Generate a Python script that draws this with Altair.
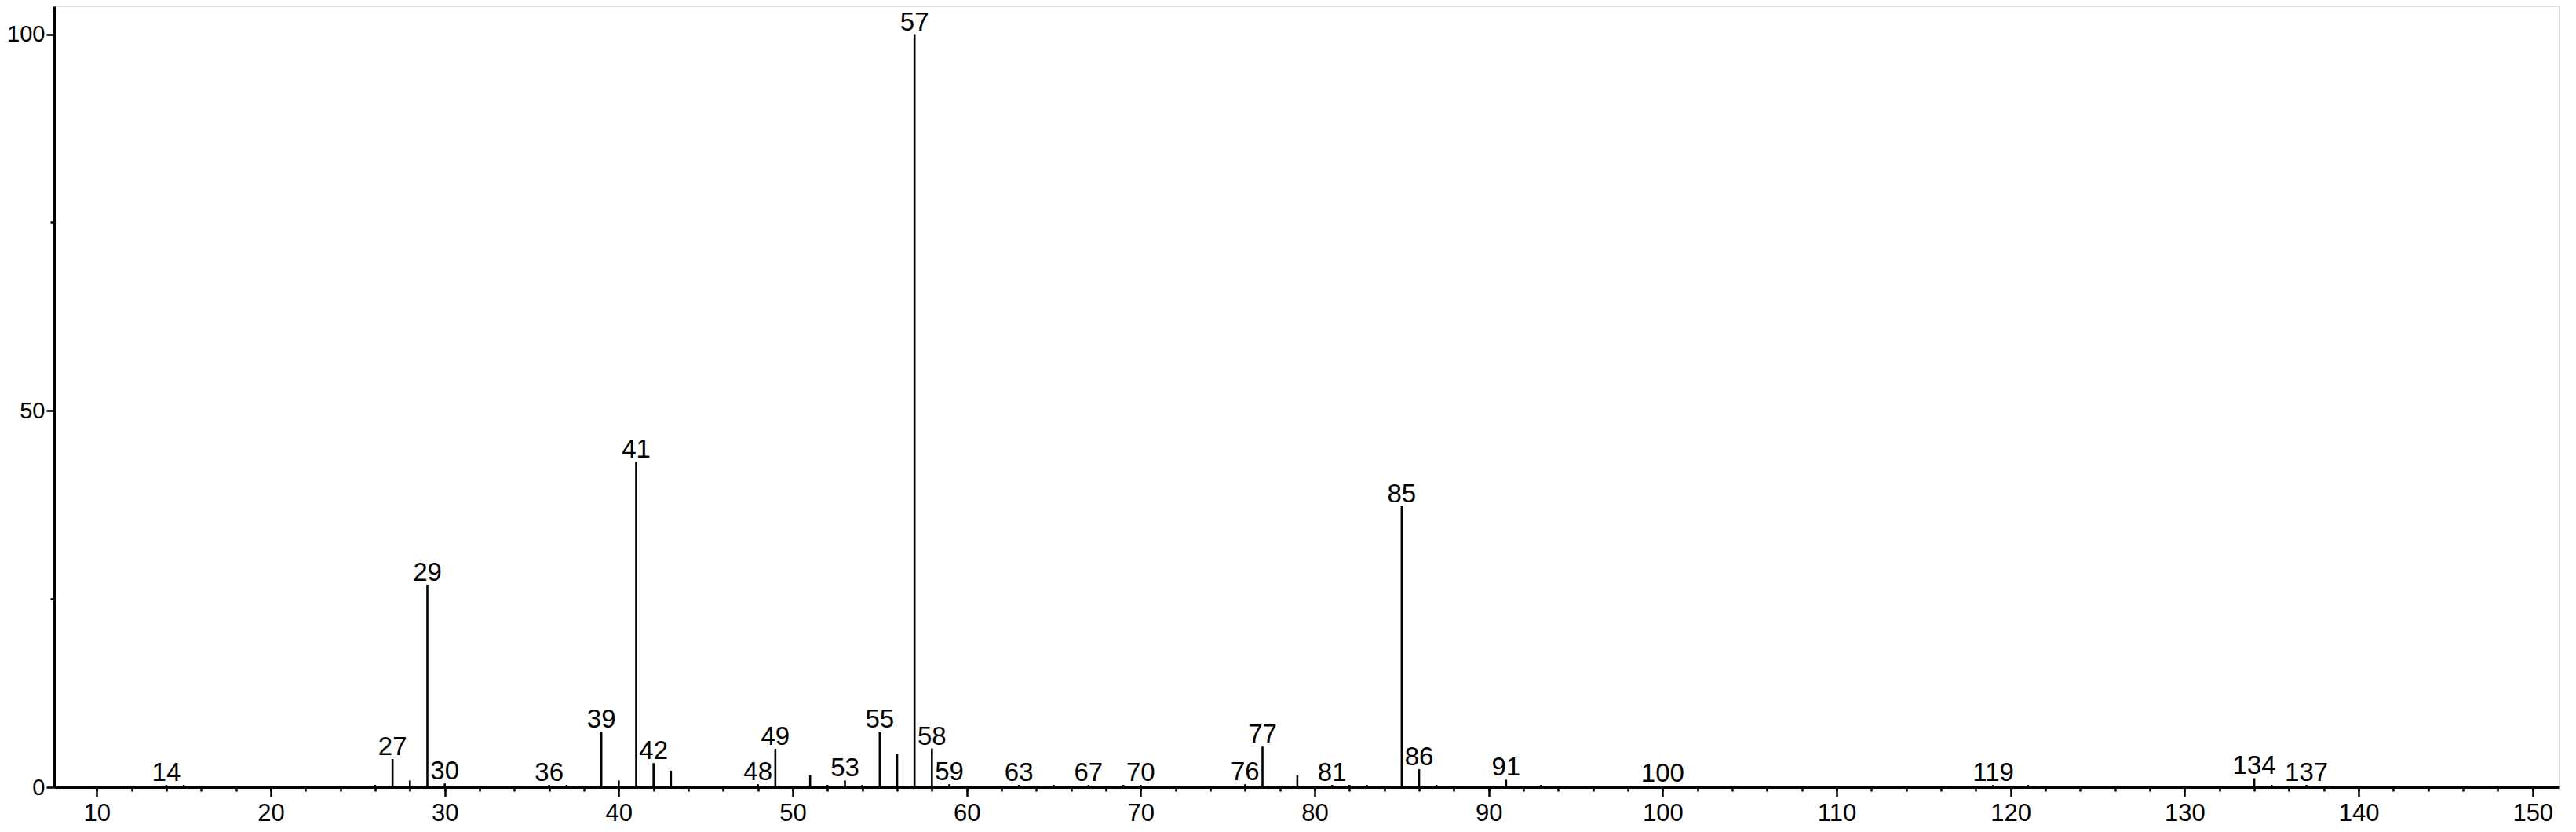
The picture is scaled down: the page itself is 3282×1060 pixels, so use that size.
import altair as alt
import pandas as pd

# m/z values and relative intensities
mz = [14, 15, 26, 27, 28, 29, 30, 36, 37, 39, 40, 41, 42, 43, 48, 49, 51, 52, 53, 54,
      55, 56, 57, 58, 59, 63, 65, 67, 69, 70, 76, 77, 79, 81, 82, 83, 85, 86, 87, 91,
      93, 100, 119, 121, 134, 135, 137]
intensity = [0.3, 0.3, 0.3, 3.75, 0.9, 26.9, 0.5, 0.3, 0.3, 7.4, 0.9, 43.2, 3.2, 2.2, 0.4, 5.1, 1.6, 0.3, 0.9, 0.3,
             7.4, 4.45, 100.0, 5.14, 0.4, 0.3, 0.3, 0.3, 0.3, 0.3, 0.4, 5.4, 1.6, 0.3, 0.3, 0.3, 37.3, 2.4, 0.3, 1.0,
             0.3, 0.2, 0.3, 0.3, 1.2, 0.3, 0.3]
labeled = [14, 27, 29, 30, 36, 39, 41, 42, 48, 49, 53, 55, 57, 58, 59, 63, 67, 70, 76, 77,
           81, 85, 86, 91, 100, 119, 134, 137]

x_major = list(range(10, 151, 10))
x_minor = list(range(10, 151, 2))
y_major = [0, 50, 100]
y_minor = [25, 75]

df = pd.DataFrame({"mz": mz, "intensity": intensity})
df["label"] = df["mz"].astype(str)
df_lab = df[df["mz"].isin(labeled)]

FONT = "Liberation Sans"
xscale = alt.Scale(domain=[7.55, 151.5], nice=False, zero=False)
yscale = alt.Scale(domain=[0, 103.7], nice=False)

major_x = alt.Axis(values=x_major, orient="bottom", tickSize=12, tickWidth=2.5, tickColor="black",
                   labelFontSize=31, labelFont=FONT, labelColor="black", labelPadding=6,
                   domainColor="black", domainWidth=3, grid=False, title=None)
minor_x = alt.Axis(values=x_minor, orient="bottom", tickSize=5, tickWidth=2.5, tickColor="black",
                   labels=False, domain=False, grid=False, title=None)
major_y = alt.Axis(values=y_major, orient="left", tickSize=10, tickWidth=2.5, tickColor="black",
                   labelFontSize=29, labelFont=FONT, labelColor="black", labelPadding=2,
                   domainColor="black", domainWidth=3, grid=False, title=None)
minor_y = alt.Axis(values=y_minor, orient="left", tickSize=5, tickWidth=2.5, tickColor="black",
                   labels=False, domain=False, grid=False, title=None)

peaks = alt.Chart(df).mark_rule(color="black", strokeWidth=2.6).encode(
    x=alt.X("mz:Q", scale=xscale, axis=major_x),
    y=alt.Y("intensity:Q", scale=yscale, axis=major_y),
    y2=alt.datum(0),
)

labels = alt.Chart(df_lab).mark_text(
    font=FONT, fontSize=33, color="black", baseline="alphabetic", align="center", dy=-5
).encode(
    x=alt.X("mz:Q", scale=xscale, axis=minor_x),
    y=alt.Y("intensity:Q", scale=yscale, axis=minor_y),
    text="label:N",
)

chart = alt.layer(peaks, labels).resolve_axis(x="independent", y="independent").properties(
    width=3191, height=995,
    autosize=alt.AutoSizeParams(type="none"),
    padding={"left": 61, "top": 0, "right": 14, "bottom": 50},
).configure_view(stroke=None).configure(background="white")

chart.save("out.html", embed_options={"renderer": "svg", "actions": False})
